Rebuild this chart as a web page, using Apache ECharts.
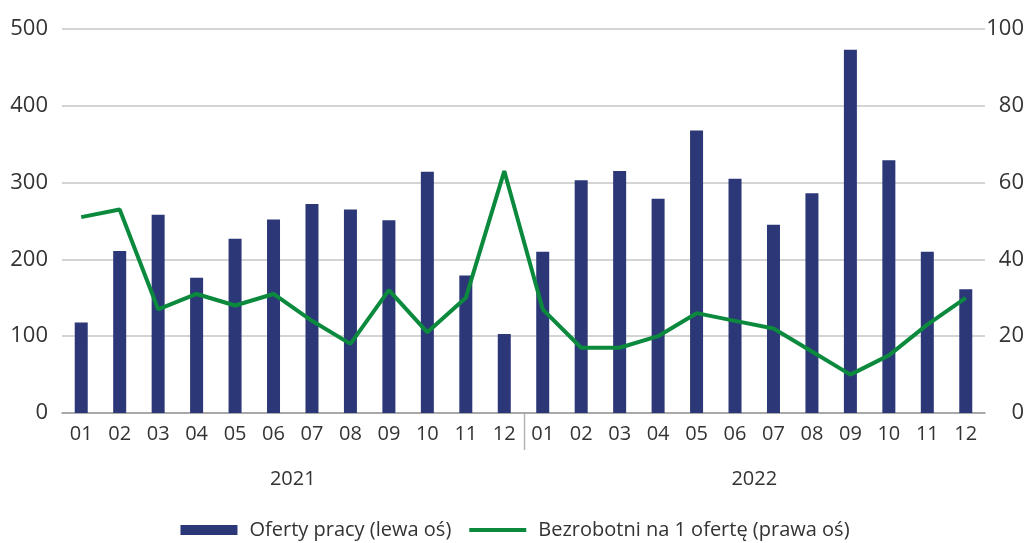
<!DOCTYPE html>
<html>
<head>
<meta charset="utf-8">
<script src="https://cdn.jsdelivr.net/npm/echarts@6/dist/echarts.min.js"></script>
<style>
    html, body { margin: 0; padding: 0; background: #fff; }
    #main { width: 1030px; height: 543px; }
</style>
</head>
<body>
<div id="main"></div>
<script>
// dane
var years = ['2021', '2022'];
var months = ['01', '02', '03', '04', '05', '06', '07', '08', '09', '10', '11', '12'];
var offers2021 = [118, 211, 258, 176, 227, 252, 272, 265, 251, 314, 179, 103];
var offers2022 = [210, 303, 315, 279, 368, 305, 245, 286, 473, 329, 210, 161];
var perOffer2021 = [51, 53, 27, 31, 28, 31, 24, 18, 32, 21, 30, 63];
var perOffer2022 = [27, 17, 17, 20, 26, 24, 22, 16, 10, 15, 23, 30];
var leftTicks = [0, 500, 100];
var rightTicks = [0, 100, 20];

var categories = [];
years.forEach(function (y) {
    months.forEach(function (m) { categories.push(y + '-' + m); });
});
var offers = offers2021.concat(offers2022);
var perOffer = perOffer2021.concat(perOffer2022);

var font = '"Open Sans", "Noto Sans", sans-serif';
var textColor = '#333333';

var myChart = echarts.init(document.getElementById('main'));

var option = {
    animation: false,
    textStyle: { fontFamily: font },
    grid: { left: 62, top: 29, width: 923, height: 384 },
    legend: {
        top: 515,
        left: 'center',
        itemGap: 18,
        itemWidth: 57,
        itemHeight: 10,
        textStyle: { fontSize: 20, color: textColor, fontFamily: font, padding: [0, 0, 0, 7] },
        data: [
            { name: 'Oferty pracy (lewa oś)', icon: 'rect' },
            { name: 'Bezrobotni na 1 ofertę (prawa oś)', icon: 'path://M0,0 L60,0 L60,4 L0,4 Z' }
        ]
    },
    xAxis: [
        {
            type: 'category',
            data: categories,
            axisLine: { lineStyle: { color: '#9a9a9a', width: 1.5 } },
            axisTick: { show: false },
            axisLabel: {
                interval: 0,
                margin: 11,
                fontSize: 20,
                color: textColor,
                fontFamily: font,
                formatter: function (v) { return v.slice(5); }
            }
        },
        {
            type: 'category',
            position: 'bottom',
            offset: 46,
            data: years,
            axisLine: { show: false },
            axisTick: { show: false },
            axisLabel: { margin: 10, fontSize: 20, color: textColor, fontFamily: font }
        }
    ],
    yAxis: [
        {
            type: 'value',
            min: leftTicks[0],
            max: leftTicks[1],
            interval: leftTicks[2],
            axisLine: { show: false },
            axisTick: { show: false },
            axisLabel: { margin: 14, fontSize: 22, color: textColor, fontFamily: font },
            splitLine: { lineStyle: { color: '#c6c6c6', width: 1.5 } }
        },
        {
            type: 'value',
            position: 'right',
            min: rightTicks[0],
            max: rightTicks[1],
            interval: rightTicks[2],
            axisLine: { show: false },
            axisTick: { show: false },
            splitLine: { show: false },
            axisLabel: { margin: 39, align: 'right', fontSize: 22, color: textColor, fontFamily: font }
        }
    ],
    series: [
        {
            name: 'Oferty pracy (lewa oś)',
            type: 'bar',
            xAxisIndex: 0,
            yAxisIndex: 0,
            barWidth: 13,
            itemStyle: { color: '#2c3778' },
            data: offers
        },
        {
            name: 'Bezrobotni na 1 ofertę (prawa oś)',
            type: 'line',
            xAxisIndex: 0,
            yAxisIndex: 1,
            symbol: 'none',
            lineStyle: { color: '#0b8a3e', width: 4 },
            itemStyle: { color: '#0b8a3e' },
            data: perOffer
        }
    ]
};

myChart.setOption(option);

// kreska oddzielająca lata, liczona z osi
var xa = myChart.convertToPixel({ xAxisIndex: 0 }, categories[11]);
var xb = myChart.convertToPixel({ xAxisIndex: 0 }, categories[12]);
var y0 = myChart.convertToPixel({ yAxisIndex: 0 }, 0);
var sepX = Math.round((xa + xb) / 2) + 0.5;
myChart.setOption({
    graphic: [{
        type: 'line',
        shape: { x1: sepX, y1: y0, x2: sepX, y2: y0 + 37 },
        style: { stroke: '#b5b5b5', lineWidth: 1.5 },
        silent: true
    }]
});
</script>
</body>
</html>
